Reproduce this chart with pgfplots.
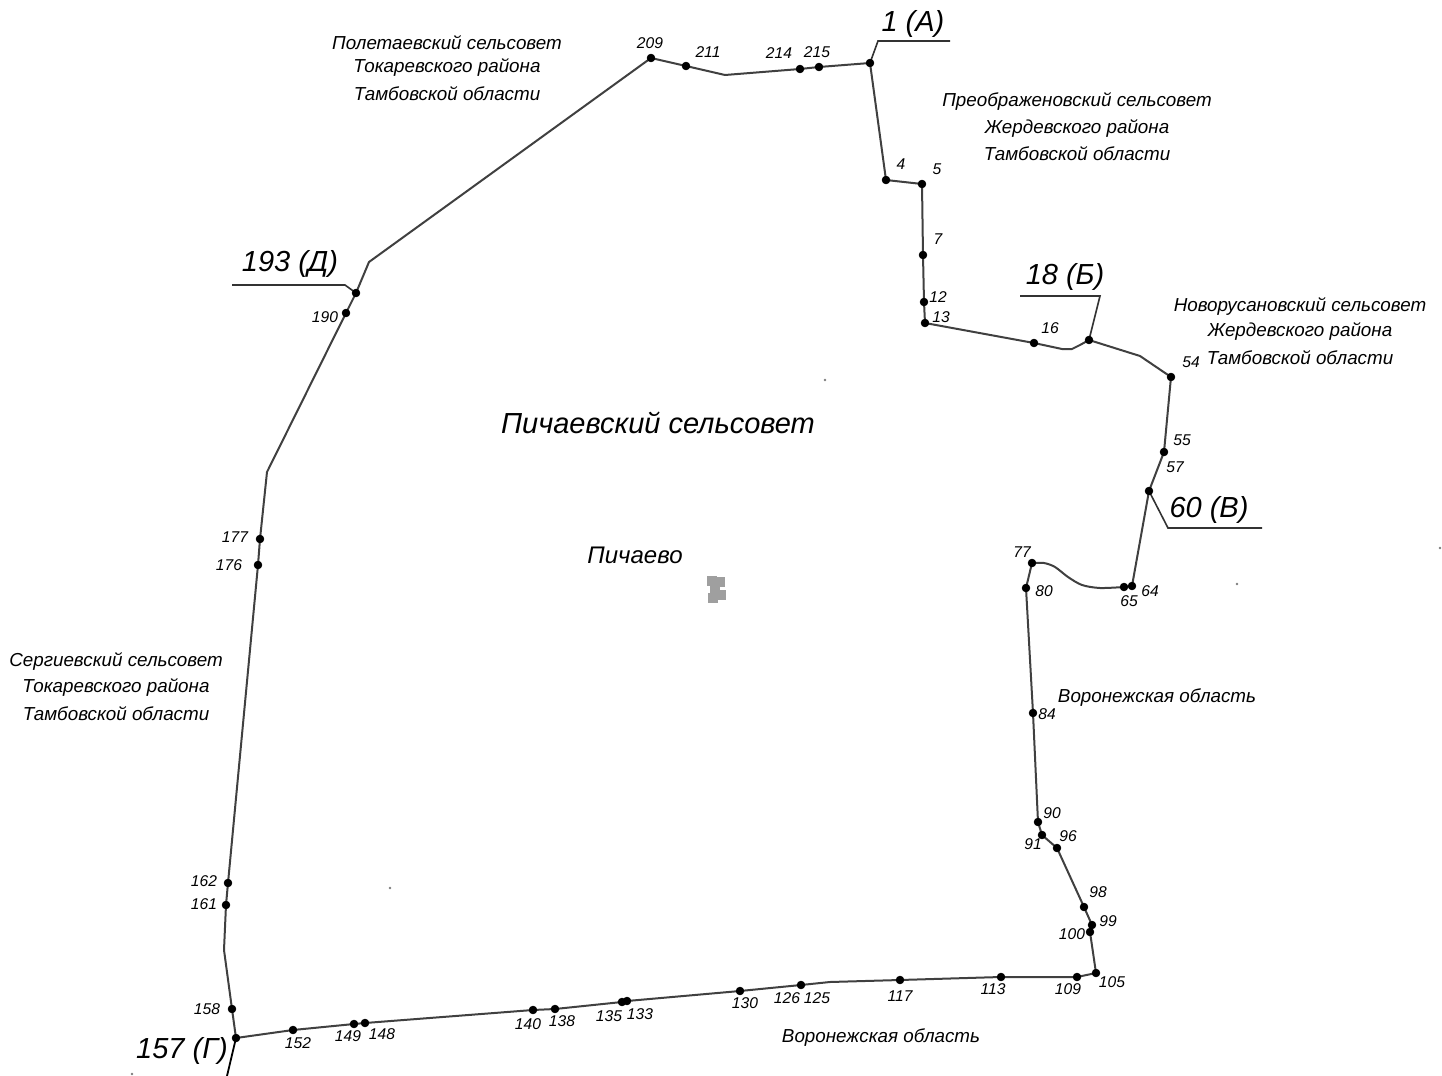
\documentclass[border=0pt]{standalone}
\usepackage{fontspec}
\setmainfont{Liberation Sans}
\usepackage{pgfplots}
\usepackage{pgfplotstable}
\pgfplotsset{compat=1.18}

% everything is in pixels of the reference, y downwards
\pgfplotstableread{
x y
870 63
886 180
922 184
923 255
924 302
925 323
1034 343
1062 349
1072 349
1080 345
1089 340
1140 356
1171 377
1164 452
1149 491
1132 586
1124 587
}\boundaryA

\pgfplotstableread{
x y
1124 587
1100 588
1082 585
1068 577
1055 567
1044 563
1032 563
}\boundaryCurve

\pgfplotstableread{
x y
1032 563
1026 588
1033 713
1038 822
1042 835
1057 848
1084 907
1092 925
1090 932
1096 973
1077 977
1001 977
900 980
830 982
801 985
740 991
627 1001
622 1002
555 1009
533 1010
365 1023
354 1024
293 1030
236 1038
232 1009
224 950
226 905
228 883
258 565
260 539
267 472
346 313
356 293
369 262
651 58
686 66
725 75
800 69
819 67
870 63
}\boundaryB

\pgfplotstableread{
x y
870 63
886 180
922 184
923 255
924 302
925 323
1034 343
1089 340
1171 377
1164 452
1149 491
1132 586
1124 587
1032 563
1026 588
1033 713
1038 822
1042 835
1057 848
1084 907
1092 925
1090 932
1096 973
1077 977
1001 977
900 980
801 985
740 991
627 1001
622 1002
555 1009
533 1010
365 1023
354 1024
293 1030
236 1038
232 1009
226 905
228 883
258 565
260 539
346 313
356 293
651 58
686 66
800 69
819 67
}\points

\pgfplotstableread[col sep=comma]{
x,y,label
650,43,209
708,52,211
779,53,214
817,52,215
901,164,4
937,169,5
938,239,7
938,297,12
941,317,13
1050,328,16
1191,362,54
1182,440,55
1175,467,57
1150,591,64
1129,601,65
1022,552,77
1044,591,80
1047,714,84
1052,813,90
1033,844,91
1068,836,96
1098,892,98
1108,921,99
1072,934,100
1112,982,105
1068,989,109
993,989,113
900,996,117
817,998,125
787,998,126
745,1003,130
640,1014,133
609,1016,135
562,1021,138
528,1024,140
382,1034,148
348,1036,149
298,1043,152
207,1009,158
204,904,161
204,881,162
229,565,176
235,537,177
325,317,190
}\numbers

\pgfplotstableread[col sep=comma]{
x,y,label
913,24,1 (А)
1065,277,18 (Б)
1209,510,60 (В)
290,264,193 (Д)
182,1051,157 (Г)
658,423,Пичаевский сельсовет
}\biglabels

\pgfplotstableread[col sep=comma]{
x,y,label
447,43,Полетаевский сельсовет
447,68,Токаревского района
447,94,Тамбовской области
1077,102,Преображеновский сельсовет
1077,128,Жердевского района
1077,154,Тамбовской области
1300,306,Новорусановский сельсовет
1300,331,Жердевского района
1300,358,Тамбовской области
116,661,Сергиевский сельсовет
116,687,Токаревского района
116,714,Тамбовской области
1157,698,Воронежская область
881,1038,Воронежская область
}\midlabels

\pgfplotstableread[col sep=comma]{
x,y,label
635,555,Пичаево
}\village

\definecolor{ink}{gray}{0.25}

\begin{document}
\begin{tikzpicture}
\useasboundingbox (0,0) rectangle (721pt,538pt);
\begin{axis}[
  scale only axis, width=721pt, height=538pt,
  xmin=0, xmax=1442, ymin=0, ymax=1076,
  y dir=reverse, hide axis, clip=true,
  nodes near coords style={anchor=center, inner sep=0pt, text=black},
]
% boundary
\addplot[ink, line width=1pt, no markers, line join=round] table[x=x,y=y] {\boundaryA};
\addplot[ink, line width=1pt, no markers, smooth] table[x=x,y=y] {\boundaryCurve};
\addplot[ink, line width=1pt, no markers, line join=round] table[x=x,y=y] {\boundaryB};
% leaders
\addplot[black!80, line width=0.8pt, no markers] coordinates {(870,63) (878,41) (950,41)};
\addplot[black!80, line width=0.8pt, no markers] coordinates {(1089,340) (1100,296) (1020,296)};
\addplot[black!80, line width=0.8pt, no markers] coordinates {(1149,491) (1168,528) (1262,528)};
\addplot[black!80, line width=0.8pt, no markers] coordinates {(356,293) (345,285) (232,285)};
\addplot[black, line width=0.9pt, no markers] coordinates {(236,1038) (227,1076)};
% points
\addplot[only marks, mark=*, mark size=1.9pt, mark options={fill=black, draw=black}] table[x=x,y=y] {\points};
% settlement symbol and specks
\addplot[only marks, mark=square*, mark size=2.4pt, mark options={fill=gray!75, draw=gray!75}] coordinates {(712,581) (720,582) (715,589) (721,595) (713,598)};
\addplot[only marks, mark=*, mark size=0.35pt, mark options={fill=gray, draw=gray}] coordinates {(390,888) (825,380) (1237,584) (1440,548) (1200,505) (132,1074)};
% labels
\addplot[no markers, draw=none, point meta=explicit symbolic, nodes near coords,
  every node near coord/.append style={font=\fontsize{7.8}{9}\selectfont\itshape}]
  table[x=x,y=y,meta=label] {\numbers};
\addplot[no markers, draw=none, point meta=explicit symbolic, nodes near coords,
  every node near coord/.append style={font=\fontsize{14.5}{16}\selectfont\itshape}]
  table[x=x,y=y,meta=label] {\biglabels};
\addplot[no markers, draw=none, point meta=explicit symbolic, nodes near coords,
  every node near coord/.append style={font=\fontsize{9.4}{11}\selectfont\itshape}]
  table[x=x,y=y,meta=label] {\midlabels};
\addplot[no markers, draw=none, point meta=explicit symbolic, nodes near coords,
  every node near coord/.append style={font=\fontsize{12}{14}\selectfont\itshape}]
  table[x=x,y=y,meta=label] {\village};
\end{axis}
\end{tikzpicture}
\end{document}
